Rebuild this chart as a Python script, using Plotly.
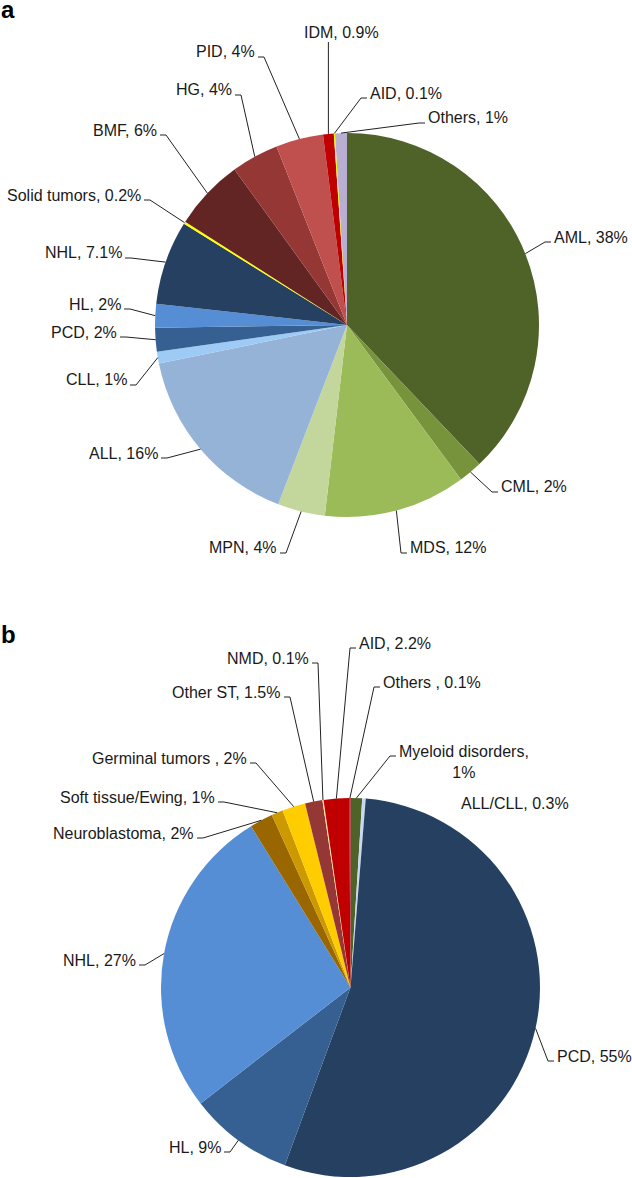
import math
import plotly.graph_objects as go

W, H = 632, 1178

# ---------------- data ----------------
cats_a = ["AML", "CML", "MDS", "MPN", "ALL", "CLL", "PCD", "HL", "NHL",
          "Solid tumors", "BMF", "HG", "PID", "IDM", "AID", "Others"]
vals_a = [38, 2, 12, 4, 16, 1, 2, 2, 7.1, 0.2, 6, 4, 4, 0.9, 0.1, 1]
text_a = ["AML, 38%", "CML, 2%", "MDS, 12%", "MPN, 4%", "ALL, 16%", "CLL, 1%",
          "PCD, 2%", "HL, 2%", "NHL, 7.1%", "Solid tumors, 0.2%", "BMF, 6%",
          "HG, 4%", "PID, 4%", "IDM, 0.9%", "AID, 0.1%", "Others, 1%"]

cats_b = ["Myeloid disorders", "ALL/CLL", "PCD", "HL", "NHL", "Neuroblastoma",
          "Soft tissue/Ewing", "Germinal tumors", "Other ST", "NMD", "AID", "Others"]
vals_b = [1, 0.3, 55, 9, 27, 2, 1, 2, 1.5, 0.1, 2.2, 0.1]
text_b = ["Myeloid disorders,<br>1%", "ALL/CLL, 0.3%", "PCD, 55%", "HL, 9%",
          "NHL, 27%", "Neuroblastoma, 2%", "Soft tissue/Ewing, 1%",
          "Germinal tumors , 2%", "Other ST, 1.5%", "NMD, 0.1%", "AID, 2.2%",
          "Others , 0.1%"]

# ---------------- styles / layout ----------------
colors_a = ["#4F6228", "#77933C", "#9BBB59", "#C3D69B", "#95B3D7", "#9DCBF5",
            "#376092", "#558ED5", "#254061", "#FFFF00", "#632523", "#953735",
            "#C0504D", "#C00000", "#FFFF00", "#B8AFD3"]
colors_b = ["#4F6228", "#C6D9F1", "#254061", "#376092", "#558ED5", "#996600",
            "#CC9900", "#FFCC00", "#953735", "#FFE699", "#C00000", "#A50021"]

# pie geometry in pixels (centre x, centre y, radius)
geo_a = (347, 325, 192)
geo_b = (350.5, 987.5, 189.5)

# label placement in pixels: (x, y, anchor) ; x is the text edge nearest the leader
pos_a = [(553, 237, "left"), (500, 487, "left"), (409, 548, "left"), (278, 548, "right"),
         (159, 453, "right"), (128, 380, "right"), (118, 332, "right"), (122, 304, "right"),
         (123, 253, "right"), (142, 195, "right"), (158, 130, "right"), (233, 90, "right"),
         (256, 52, "right"), (341, 32, "center"), (369, 93, "left"), (427, 118, "left")]
pos_b = [(398, 762, "left2"), (460, 803, "none"), (556, 1056, "left"), (222, 1147, "right"),
         (137, 960, "right"), (195, 833, "right"), (216, 797, "right"), (248, 758, "right"),
         (282, 692, "right"), (310, 658, "right"), (358, 643, "left"), (382, 682, "left")]

FONT = "Liberation Sans, Arial, Helvetica, sans-serif"
TXT = "#1a1a1a"


def px(x):
    return x / W


def py(y):
    return 1 - y / H


def edge_points(vals, geo):
    cx, cy, r = geo
    tot = sum(vals)
    pts, c = [], 0.0
    for v in vals:
        mid = (c + v / 2) / tot * 2 * math.pi
        pts.append((cx + r * math.sin(mid), cy - r * math.cos(mid)))
        c += v
    return pts


def domain(geo):
    cx, cy, r = geo
    return dict(x=[px(cx - r), px(cx + r)], y=[py(cy + r), py(cy - r)])


fig = go.Figure()
for cats, vals, cols, geo in [(cats_a, vals_a, colors_a, geo_a), (cats_b, vals_b, colors_b, geo_b)]:
    fig.add_trace(go.Pie(labels=cats, values=vals, sort=False, direction="clockwise",
                         rotation=0, textinfo="none", hoverinfo="label+value",
                         marker=dict(colors=cols, line=dict(width=0)),
                         domain=domain(geo), showlegend=False))

annotations, shapes = [], []
for texts, vals, geo, pos in [(text_a, vals_a, geo_a, pos_a), (text_b, vals_b, geo_b, pos_b)]:
    pts = edge_points(vals, geo)
    for t, (ex, ey), (tx, ty, anc) in zip(texts, pts, pos):
        if anc == "center":
            xa = "center"
        elif anc in ("left", "left2", "none"):
            xa = "left"
        else:
            xa = "right"
        annotations.append(dict(x=px(tx), y=py(ty), xref="paper", yref="paper",
                                text=t, showarrow=False, xanchor=xa, yanchor="middle",
                                align="center", borderpad=0,
                                font=dict(family=FONT, size=16, color=TXT)))
        if anc == "none":
            continue
        if anc == "center":
            path = f"M {px(ex)} {py(ty + 10)} L {px(ex)} {py(ey)}"
        else:
            ly = ty + 5 if anc != "left2" else ty - 6
            if anc == "right":
                x1, x2 = tx + 2, tx + 8
            else:
                x1, x2 = tx - 2, tx - 8
            path = (f"M {px(x1)} {py(ly)} L {px(x2)} {py(ly)} "
                    f"L {px(ex)} {py(ey)}")
        shapes.append(dict(type="path", path=path, xref="paper", yref="paper",
                           line=dict(color="#222222", width=1)))

# panel letters
annotations.append(dict(x=0, y=py(9), xref="paper", yref="paper", text="<b>a</b>",
                        showarrow=False, xanchor="left", yanchor="middle", borderpad=0,
                        font=dict(family=FONT, size=24, color="#000")))
annotations.append(dict(x=0, y=py(634), xref="paper", yref="paper", text="<b>b</b>",
                        showarrow=False, xanchor="left", yanchor="middle", borderpad=0,
                        font=dict(family=FONT, size=24, color="#000")))

fig.update_layout(width=W, height=H, margin=dict(l=0, r=0, t=0, b=0),
                  paper_bgcolor="white", plot_bgcolor="white",
                  annotations=annotations, shapes=shapes)

fig.write_html("out.html", config={"displayModeBar": False, "staticPlot": True},
               post_script="document.body.style.margin='0px';"
                           "document.body.style.overflow='hidden';")
